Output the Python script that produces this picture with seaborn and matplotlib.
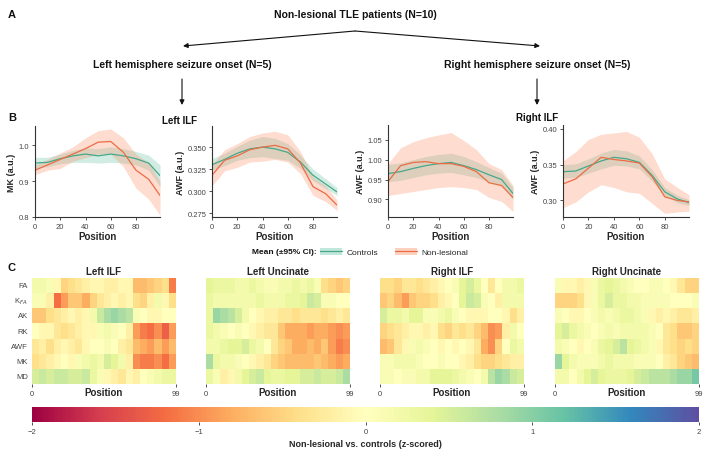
import numpy as np
import pandas as pd
import matplotlib
matplotlib.use('Agg')
import matplotlib.pyplot as plt
from matplotlib.patches import Patch
from matplotlib.lines import Line2D
import seaborn as sns

# ---- data: along-tract profiles (panel B) ----
pos = [0, 10, 20, 30, 40, 50, 60, 70, 80, 90, 99]

mk_l_ctrl = [0.950, 0.952, 0.962, 0.970, 0.975, 0.970, 0.975, 0.970, 0.962, 0.950, 0.915]
mk_l_ctrl_lo = [0.935, 0.940, 0.948, 0.952, 0.952, 0.950, 0.952, 0.950, 0.945, 0.930, 0.885]
mk_l_ctrl_hi = [0.966, 0.966, 0.975, 0.985, 0.992, 0.990, 0.995, 0.990, 0.982, 0.972, 0.945]
mk_l_nl = [0.930, 0.945, 0.960, 0.975, 0.990, 1.008, 1.010, 0.980, 0.930, 0.905, 0.860]
mk_l_nl_lo = [0.918, 0.930, 0.935, 0.955, 0.965, 0.975, 0.975, 0.940, 0.880, 0.850, 0.805]
mk_l_nl_hi = [0.945, 0.960, 0.978, 0.995, 1.020, 1.040, 1.045, 1.020, 0.975, 0.950, 0.900]

awf_l_ctrl = [0.330, 0.336, 0.343, 0.348, 0.350, 0.348, 0.344, 0.333, 0.318, 0.308, 0.299]
awf_l_ctrl_lo = [0.324, 0.329, 0.335, 0.338, 0.339, 0.337, 0.335, 0.326, 0.312, 0.303, 0.295]
awf_l_ctrl_hi = [0.337, 0.343, 0.351, 0.358, 0.362, 0.360, 0.354, 0.341, 0.325, 0.314, 0.304]
awf_l_nl = [0.318, 0.335, 0.340, 0.347, 0.350, 0.352, 0.348, 0.332, 0.305, 0.297, 0.284]
awf_l_nl_lo = [0.306, 0.323, 0.327, 0.333, 0.334, 0.336, 0.333, 0.320, 0.295, 0.288, 0.278]
awf_l_nl_hi = [0.330, 0.347, 0.354, 0.362, 0.366, 0.368, 0.364, 0.345, 0.316, 0.306, 0.290]

awf_r_ctrl = [0.965, 0.970, 0.978, 0.985, 0.990, 0.993, 0.985, 0.975, 0.962, 0.950, 0.915]
awf_r_ctrl_lo = [0.945, 0.948, 0.955, 0.962, 0.966, 0.968, 0.962, 0.955, 0.945, 0.935, 0.900]
awf_r_ctrl_hi = [0.988, 0.992, 1.000, 1.008, 1.013, 1.016, 1.008, 0.995, 0.980, 0.966, 0.930]
awf_r_nl = [0.945, 0.985, 0.993, 0.995, 0.990, 0.990, 0.983, 0.970, 0.942, 0.935, 0.905]
awf_r_nl_lo = [0.910, 0.915, 0.920, 0.925, 0.930, 0.932, 0.930, 0.925, 0.905, 0.895, 0.870]
awf_r_nl_hi = [0.990, 1.030, 1.045, 1.055, 1.062, 1.068, 1.048, 1.025, 0.990, 0.975, 0.935]

awf_ru_ctrl = [0.340, 0.341, 0.348, 0.355, 0.360, 0.358, 0.353, 0.335, 0.312, 0.302, 0.297]
awf_ru_ctrl_lo = [0.331, 0.332, 0.338, 0.344, 0.349, 0.348, 0.344, 0.327, 0.306, 0.297, 0.293]
awf_ru_ctrl_hi = [0.350, 0.351, 0.358, 0.366, 0.371, 0.369, 0.362, 0.343, 0.318, 0.307, 0.301]
awf_ru_nl = [0.323, 0.330, 0.345, 0.360, 0.357, 0.355, 0.352, 0.333, 0.305, 0.300, 0.298]
awf_ru_nl_lo = [0.290, 0.298, 0.312, 0.322, 0.318, 0.312, 0.310, 0.296, 0.282, 0.284, 0.285]
awf_ru_nl_hi = [0.355, 0.368, 0.385, 0.392, 0.394, 0.396, 0.388, 0.365, 0.330, 0.318, 0.308]

# ---- data: z-scored differences (panel C), 20 segments along each tract ----
metrics = ['FA', r'K$_{FA}$', 'AK', 'RK', 'AWF', 'MK', 'MD']

z_left_ilf = [
    [0.2, 0.2, 0.1, -0.1, -0.5, -0.4, -0.3, -0.2, -0.1, -0.1, -0.2, -0.2, -0.1, -0.1, -0.7, -0.7, -0.6, -0.5, -0.4, -1.1],
    [0.1, 0.1, -0.2, -1.2, -0.9, -0.6, -0.6, -0.8, -0.5, -0.3, -0.2, -0.1, -0.2, -0.1, -0.4, -0.5, -0.2, 0.2, -0.1, -0.4],
    [-0.6, -0.6, -0.4, -0.3, -0.2, -0.1, -0.2, -0.1, 0.2, 0.6, 0.8, 0.9, 0.8, 0.7, 0.1, 0.0, -0.1, -0.1, 0.0, 0.0],
    [0.0, -0.1, -0.1, -0.3, -0.4, -0.3, -0.2, -0.1, -0.1, 0.1, 0.2, 0.1, 0.0, -0.2, -0.9, -1.1, -1.2, -1.0, -1.3, -0.9],
    [-0.3, -0.2, -0.4, -0.2, -0.1, -0.2, -0.3, -0.1, 0.0, 0.0, 0.1, 0.0, -0.2, -0.3, -0.7, -0.8, -0.9, -0.7, -0.9, -0.7],
    [-0.4, -0.3, -0.2, -0.1, 0.0, -0.1, 0.1, 0.2, 0.3, 0.2, 0.5, 0.4, 0.2, -0.2, -1.0, -1.1, -1.1, -1.0, -1.2, -0.9],
    [0.5, 0.6, 0.5, 0.6, 0.6, 0.5, 0.5, 0.6, 0.3, 0.1, -0.1, -0.2, -0.3, -0.1, -0.2, 0.0, 0.1, 0.2, 0.3, 0.3],
]
z_left_unc = [
    [0.4, 0.3, 0.3, 0.3, 0.2, 0.2, 0.3, 0.2, 0.1, 0.1, 0.2, 0.2, 0.3, 0.2, 0.3, 0.1, -0.4, -0.5, -0.6, -0.5],
    [0.3, 0.2, 0.2, 0.2, 0.2, 0.2, 0.2, 0.3, 0.2, 0.2, 0.2, 0.3, 0.3, 0.4, 0.6, 0.5, 0.1, 0.1, 0.0, 0.0],
    [0.3, 0.9, 0.8, 0.7, 0.5, 0.2, 0.0, -0.1, -0.2, -0.2, -0.3, -0.3, -0.4, -0.3, -0.3, -0.3, -0.4, -0.3, -0.2, -0.3],
    [0.3, 0.2, 0.1, 0.0, 0.1, 0.0, -0.1, -0.2, -0.3, -0.3, -0.6, -0.8, -0.8, -0.8, -0.9, -0.8, -0.8, -0.9, -1.0, -0.9],
    [0.2, 0.2, 0.3, 0.4, 0.4, 0.5, 0.3, 0.2, 0.0, -0.3, -0.5, -0.6, -0.8, -0.8, -0.7, -0.8, -0.6, -0.9, -1.1, -1.0],
    [0.8, 0.3, 0.2, 0.2, 0.1, 0.0, -0.1, -0.2, -0.3, -0.5, -0.6, -0.7, -0.7, -0.7, -0.7, -0.6, -0.7, -0.8, -0.9, -0.8],
    [0.3, 0.1, -0.2, -0.1, 0.2, 0.4, 0.5, 0.6, 0.4, 0.3, 0.3, 0.4, 0.4, 0.5, 0.5, 0.6, 0.5, 0.5, 0.6, 0.8],
]
z_right_ilf = [
    [-0.4, -0.4, -0.5, -0.3, -0.3, -0.4, -0.3, -0.2, -0.1, 0.0, 0.1, 0.4, 0.5, 0.3, 0.0, -0.3, 0.0, 0.2, 0.2, 0.3],
    [-0.6, -0.5, -0.7, -0.9, -0.6, -0.5, -0.5, -0.4, -0.2, -0.1, 0.0, 0.4, 0.6, 0.5, 0.1, 0.0, -0.2, 0.2, 0.2, 0.2],
    [0.5, 0.3, 0.3, 0.2, 0.4, 0.4, 0.1, 0.1, 0.2, 0.3, 0.1, 0.0, -0.1, -0.1, -0.1, 0.0, 0.0, -0.1, -0.4, -0.2],
    [-0.5, -0.4, -0.3, -0.2, -0.1, -0.1, -0.2, -0.1, -0.4, -0.5, -0.3, -0.4, -0.3, -0.5, -0.7, -1.0, -0.9, -0.2, 0.2, 0.0],
    [-0.7, -0.6, -0.3, -0.1, 0.1, 0.2, 0.1, 0.0, -0.1, 0.0, -0.1, 0.0, -0.1, -0.3, -0.8, -1.0, -0.5, 0.0, 0.3, 0.2],
    [0.1, 0.1, 0.2, 0.2, 0.2, 0.1, 0.0, 0.0, 0.1, 0.0, 0.0, -0.1, -0.2, -0.4, -0.5, -0.5, -0.4, -0.3, -0.2, -0.2],
    [0.1, 0.1, 0.0, 0.1, 0.1, 0.2, 0.2, 0.4, 0.4, 0.4, 0.3, 0.2, 0.1, 0.0, 0.2, 0.7, 0.9, 0.8, 0.6, 0.5],
]
z_right_unc = [
    [0.1, -0.1, -0.1, -0.2, -0.1, 0.1, 0.3, 0.4, 0.3, 0.2, 0.1, 0.0, 0.0, 0.1, 0.1, 0.0, -0.1, -0.3, -0.5, -0.5],
    [-0.5, -0.5, -0.5, -0.4, -0.1, 0.1, 0.3, 0.5, 0.3, 0.3, 0.2, 0.2, 0.1, 0.1, 0.1, 0.1, 0.0, 0.0, 0.0, 0.1],
    [0.1, 0.0, -0.1, -0.1, 0.0, 0.1, 0.2, 0.1, 0.2, 0.3, 0.3, 0.2, 0.1, -0.1, -0.2, -0.1, -0.2, -0.3, -0.3, -0.2],
    [0.4, 0.5, 0.3, 0.2, 0.1, 0.0, 0.1, 0.2, 0.1, 0.2, 0.2, 0.2, 0.2, 0.1, 0.0, -0.3, -0.4, -0.6, -0.6, -0.5],
    [0.2, 0.1, 0.0, -0.1, 0.0, 0.1, 0.3, 0.4, 0.5, 0.7, 0.4, 0.3, 0.2, 0.1, -0.1, -0.3, -0.4, -0.5, -0.4, -0.5],
    [0.9, 0.4, 0.2, 0.1, 0.1, 0.1, 0.2, 0.3, 0.2, 0.2, 0.2, 0.1, 0.1, 0.1, 0.0, -0.2, -0.3, -0.5, -0.6, -0.7],
    [0.2, 0.2, 0.0, 0.2, 0.4, 0.5, 0.4, 0.3, 0.3, 0.3, 0.4, 0.5, 0.6, 0.7, 0.7, 0.7, 0.8, 0.9, 0.9, 1.1],
]

# ---- style ----
sns.set_style('ticks')
plt.rcParams['font.family'] = ['Liberation Sans', 'DejaVu Sans']
plt.rcParams['axes.edgecolor'] = '#333333'
plt.rcParams['axes.linewidth'] = 0.8
plt.rcParams['xtick.color'] = '#333333'
plt.rcParams['ytick.color'] = '#333333'
plt.rcParams['xtick.labelcolor'] = '#444444'
plt.rcParams['ytick.labelcolor'] = '#444444'
plt.rcParams['xtick.major.size'] = 2.5
plt.rcParams['ytick.major.size'] = 2.5
plt.rcParams['xtick.major.width'] = 0.6
plt.rcParams['ytick.major.width'] = 0.6

W, H = 708, 452
fig = plt.figure(figsize=(W / 100, H / 100), dpi=100)


def box(x0, y0, x1, y1):
    return [x0 / W, 1 - y1 / H, (x1 - x0) / W, (y1 - y0) / H]


c_green, c_orange = '#46a889', '#ec6c45'
f_green, f_orange = '#66c2a5', '#fc8d62'

# ---- panel A: flow chart ----
top = fig.add_axes([0, 0, 1, 1], zorder=5)
top.set_xlim(0, W)
top.set_ylim(H, 0)
top.axis('off')
bold = dict(fontweight='bold', color='#111111')
top.text(8, 15, 'A', fontsize=8, va='center', **bold)
top.text(8, 118, 'B', fontsize=8, va='center', **bold)
top.text(8, 268, 'C', fontsize=8, va='center', **bold)
top.text(355, 15, 'Non-lesional TLE patients (N=10)', fontsize=7.5, ha='center', va='center', **bold)
top.text(182, 65, 'Left hemisphere seizure onset (N=5)', fontsize=7.5, ha='center', va='center', **bold)
top.text(537, 65, 'Right hemisphere seizure onset (N=5)', fontsize=7.5, ha='center', va='center', **bold)
arr = dict(arrowstyle='-|>', color='#111111', lw=0.8, mutation_scale=7, shrinkA=0, shrinkB=0)
for xe in (183, 540):
    top.annotate('', xy=(xe, 47), xytext=(355, 32), arrowprops=arr)
for xe in (182, 537):
    top.annotate('', xy=(xe, 106), xytext=(xe, 80), arrowprops=arr)
top.text(180, 121, 'Left ILF', fontsize=7, ha='center', va='center', **bold)
top.text(537, 118, 'Right ILF', fontsize=7, ha='center', va='center', **bold)

# ---- panel B: profiles ----
profiles = [
    ((35, 127, 160, 218), 'MK (a.u.)', (0.8, 1.053), [0.8, 0.9, 1.0],
     mk_l_ctrl, mk_l_ctrl_lo, mk_l_ctrl_hi, mk_l_nl, mk_l_nl_lo, mk_l_nl_hi),
    ((212, 127, 337, 218), 'AWF (a.u.)', (0.2705, 0.374), [0.275, 0.300, 0.325, 0.350],
     awf_l_ctrl, awf_l_ctrl_lo, awf_l_ctrl_hi, awf_l_nl, awf_l_nl_lo, awf_l_nl_hi),
    ((388, 126, 513, 218), 'AWF (a.u.)', (0.856, 1.087), [0.90, 0.95, 1.00, 1.05],
     awf_r_ctrl, awf_r_ctrl_lo, awf_r_ctrl_hi, awf_r_nl, awf_r_nl_lo, awf_r_nl_hi),
    ((563, 126, 689, 218), 'AWF (a.u.)', (0.277, 0.405), [0.30, 0.35, 0.40],
     awf_ru_ctrl, awf_ru_ctrl_lo, awf_ru_ctrl_hi, awf_ru_nl, awf_ru_nl_lo, awf_ru_nl_hi),
]
for b, ylab, ylim, yt, cm, clo, chi, nm, nlo, nhi in profiles:
    ax = fig.add_axes(box(*b))
    df = pd.DataFrame({
        'Position': pos * 2,
        'value': cm + nm,
        'group': ['Controls'] * len(pos) + ['Non-lesional'] * len(pos),
    })
    ax.fill_between(pos, clo, chi, color=f_green, alpha=0.3, lw=0)
    ax.fill_between(pos, nlo, nhi, color=f_orange, alpha=0.3, lw=0)
    sns.lineplot(data=df, x='Position', y='value', hue='group',
                 palette={'Controls': c_green, 'Non-lesional': c_orange},
                 lw=0.9, legend=False, ax=ax)
    ax.set_xlim(0, 99)
    ax.set_ylim(*ylim)
    ax.set_xticks([0, 20, 40, 60, 80])
    ax.set_yticks(yt)
    ax.tick_params(labelsize=5.5, pad=1.5)
    ax.set_xlabel('Position', fontsize=7, fontweight='bold', labelpad=1)
    ax.set_ylabel(ylab, fontsize=6.5, fontweight='bold', labelpad=2)
    sns.despine(ax=ax)

# legend
top.text(317, 253, 'Mean (\u00b195% CI):', fontsize=6, ha='right', va='center', **bold)
handles = [(Patch(facecolor=f_green, alpha=0.4, lw=0), Line2D([], [], color=c_green, lw=0.9)),
           (Patch(facecolor=f_orange, alpha=0.4, lw=0), Line2D([], [], color=c_orange, lw=0.9))]
fig.legend(handles, ['Controls', 'Non-lesional'], ncol=2, frameon=False, fontsize=6,
           loc='center left', bbox_to_anchor=(318 / W, 1 - 253 / H),
           handlelength=2.7, handleheight=0.9, handletextpad=0.5, columnspacing=2.0,
           borderpad=0.2, borderaxespad=0)

# ---- panel C: heatmaps ----
heat = [
    ((32, 279, 176, 385), 'Left ILF', z_left_ilf),
    ((206, 279, 350, 385), 'Left Uncinate', z_left_unc),
    ((380, 279, 524, 385), 'Right ILF', z_right_ilf),
    ((555, 279, 699, 385), 'Right Uncinate', z_right_unc),
]
cax = fig.add_axes(box(32, 408, 699, 423))
for i, (b, title, z) in enumerate(heat):
    ax = fig.add_axes(box(*b))
    zdf = pd.DataFrame(z, index=metrics)
    sns.heatmap(zdf, cmap='Spectral', vmin=-2, vmax=2, ax=ax,
                cbar=(i == 0), cbar_ax=cax if i == 0 else None,
                cbar_kws={'orientation': 'horizontal', 'ticks': [-2, -1, 0, 1, 2]})
    ax.set_title(title, fontsize=7, fontweight='bold', pad=3)
    ax.set_xticks([0, zdf.shape[1]])
    ax.set_xticklabels(['0', '99'], rotation=0)
    ax.tick_params(axis='x', labelsize=5.5, length=2.5, pad=1.5)
    ax.set_xlabel('Position', fontsize=7, fontweight='bold', labelpad=-7)
    if i == 0:
        ax.set_yticks(np.arange(len(metrics)) + 0.5)
        ax.set_yticklabels(metrics, rotation=0)
        ax.tick_params(axis='y', labelsize=5.5, length=0, pad=3)
    else:
        ax.set_yticks([])
    ax.set_ylabel('')

cax.tick_params(labelsize=5.5, length=2.5, pad=1.5)
cax.set_xlabel('Non-lesional vs. controls (z-scored)', fontsize=6.5, fontweight='bold', labelpad=3)
for s in cax.spines.values():
    s.set_visible(False)

fig.savefig('out.png', dpi=100)
